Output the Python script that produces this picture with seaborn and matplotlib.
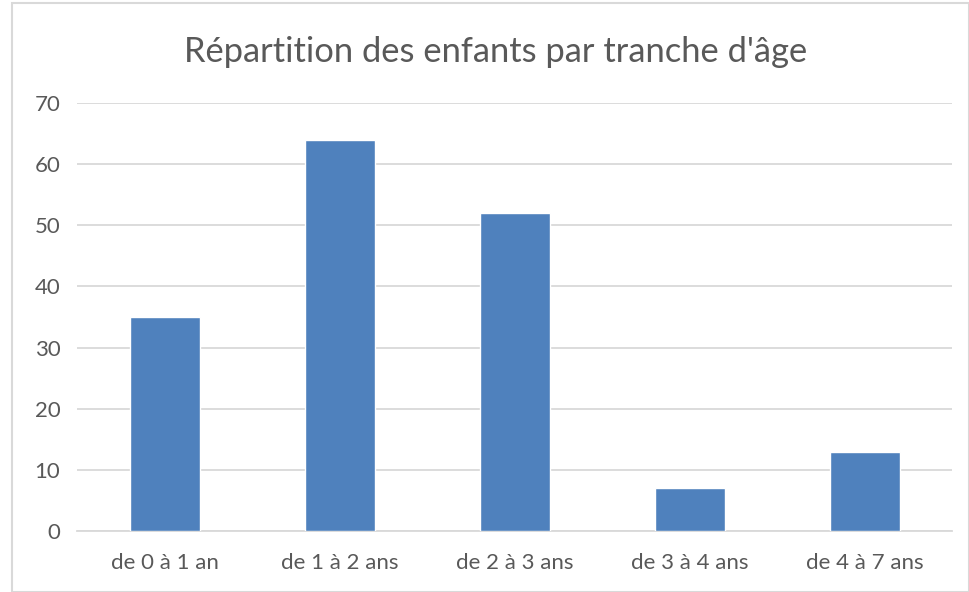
import matplotlib
matplotlib.use("Agg")
import matplotlib.pyplot as plt
import seaborn as sns
import pandas as pd
from matplotlib.patches import Rectangle

categories = ["de 0 à 1 an", "de 1 à 2 ans", "de 2 à 3 ans", "de 3 à 4 ans", "de 4 à 7 ans"]
values = [35, 64, 52, 7, 13]
yticks = [0, 10, 20, 30, 40, 50, 60, 70]
title = "Répartition des enfants par tranche d'âge"

sns.set_theme(style="white")
plt.rcParams['font.family'] = ['Lato', 'DejaVu Sans']

df = pd.DataFrame({"cat": categories, "val": values})

fig = plt.figure(figsize=(9.69, 5.92), dpi=100)
ax = fig.add_axes([77/969, 1-531/592, (952-77)/969, (531-103)/592])

sns.barplot(data=df, x="cat", y="val", color="#4F81BD", width=0.4, saturation=1, ax=ax, zorder=3)

ax.set_ylim(0, 70)
ax.set_xlim(-0.5, len(categories)-0.5)
ax.set_yticks(yticks)
ax.set_yticklabels([str(t) for t in yticks], color="#595959", fontsize=16)
ax.tick_params(axis='y', length=0, pad=12)
ax.yaxis.grid(True, color="#D9D9D9", linewidth=1.3, zorder=0)
ax.set_axisbelow(True)
ax.tick_params(axis='x', which='major', length=0, pad=16, labelsize=16, labelcolor="#595959")
ax.set_xticks([i - 0.5 for i in range(len(categories)+1)], minor=True)
ax.tick_params(axis='x', which='minor', length=7, color="#D9D9D9", width=1.3)
ax.set_xlabel("")
ax.set_ylabel("")
for s in ["top", "right", "left"]:
    ax.spines[s].set_visible(False)
ax.spines["bottom"].set_color("#D9D9D9")
ax.spines["bottom"].set_linewidth(1.3)

fig.text(496/969, 1-52/592, title, ha="center", va="center", fontsize=24.8, color="#595959")

fig.patches.append(Rectangle((12/969, 0), 1-12/969, 1-3/592, transform=fig.transFigure,
                             fill=False, edgecolor="#D9D9D9", linewidth=1.5))

fig.savefig("out.png", dpi=100)
